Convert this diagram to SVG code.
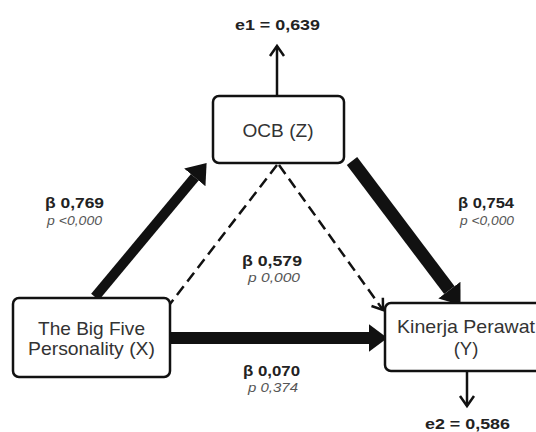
<svg xmlns="http://www.w3.org/2000/svg" width="536" height="432" viewBox="0 0 536 432">
<style>
.box{fill:#fff;stroke:#111;stroke-width:2.5}
.nt{font-family:"Liberation Sans",Arial,sans-serif;font-size:18.5px;fill:#333;text-anchor:middle}
.b{font-family:"Liberation Sans",Arial,sans-serif;font-size:15px;font-weight:bold;fill:#222}
.p{font-family:"Liberation Sans",Arial,sans-serif;font-size:12px;font-style:italic;fill:#555}
.thick{stroke:#111;fill:none}
.dash{stroke:#111;stroke-width:2.5;stroke-dasharray:11 6;fill:none}
.thin{stroke:#111;stroke-width:2.5;fill:none}
</style>
<defs>
<marker id="head" markerUnits="userSpaceOnUse" markerWidth="20" markerHeight="30" viewBox="0 -13 17 26" refX="0" refY="0" orient="auto">
<path d="M0,-12 L16,0 L0,12 Z" fill="#111"/>
</marker>
<marker id="open" markerUnits="userSpaceOnUse" markerWidth="16" markerHeight="20" viewBox="-13 -9 16 18" refX="0" refY="0" orient="auto">
<path d="M-10,-7 L0,0 L-10,7" fill="none" stroke="#111" stroke-width="2.5"/>
</marker>
</defs>
<g id="connectors">
<line class="thick" x1="95" y1="297" x2="194.8" y2="177.3" stroke-width="10" marker-end="url(#head)"/>
<line class="thick" x1="352" y1="161" x2="449.4" y2="290.2" stroke-width="13" marker-end="url(#head)"/>
<line class="thick" x1="170" y1="338" x2="369" y2="338" stroke-width="12" marker-end="url(#head)"/>
<line class="dash" x1="277" y1="165" x2="170" y2="304"/>
<line class="dash" x1="279" y1="165" x2="383" y2="310" marker-end="url(#open)"/>
<line class="thin" x1="277" y1="96" x2="277" y2="46" marker-end="url(#open)"/>
<line class="thin" x1="467" y1="371" x2="467" y2="406" marker-end="url(#open)"/>
</g>
<g id="ocb">
<rect class="box" x="213" y="96" width="131" height="67" rx="6"/>
<text class="nt" x="278" y="137" textLength="71" lengthAdjust="spacingAndGlyphs">OCB (Z)</text>
</g>
<g id="bigfive">
<rect class="box" x="13" y="298" width="157" height="79" rx="6"/>
<text class="nt" x="91.5" y="335" textLength="107" lengthAdjust="spacingAndGlyphs">The Big Five</text>
<text class="nt" x="91.5" y="355" textLength="127" lengthAdjust="spacingAndGlyphs">Personality (X)</text>
</g>
<g id="kinerja">
<rect class="box" x="385" y="303" width="170" height="68" rx="6"/>
<text class="nt" x="466" y="333" textLength="138" lengthAdjust="spacingAndGlyphs">Kinerja Perawat</text>
<text class="nt" x="466" y="355">(Y)</text>
</g>
<g id="labels">
<text class="b" x="235" y="30" textLength="85" lengthAdjust="spacingAndGlyphs">e1 = 0,639</text>
<text class="b" x="425" y="429" textLength="85" lengthAdjust="spacingAndGlyphs">e2 = 0,586</text>
<text class="b" x="45" y="208" textLength="59" lengthAdjust="spacingAndGlyphs">β 0,769</text>
<text class="p" x="47" y="225" textLength="55" lengthAdjust="spacingAndGlyphs">p &lt;0,000</text>
<text class="b" x="458" y="208" textLength="56" lengthAdjust="spacingAndGlyphs">β 0,754</text>
<text class="p" x="460" y="225" textLength="54" lengthAdjust="spacingAndGlyphs">p &lt;0,000</text>
<text class="b" x="242" y="266" textLength="60" lengthAdjust="spacingAndGlyphs">β 0,579</text>
<text class="p" x="248" y="282" textLength="52" lengthAdjust="spacingAndGlyphs">p 0,000</text>
<text class="b" x="243" y="376" textLength="57" lengthAdjust="spacingAndGlyphs">β 0,070</text>
<text class="p" x="248" y="392" textLength="50" lengthAdjust="spacingAndGlyphs">p 0,374</text>
</g>
</svg>
